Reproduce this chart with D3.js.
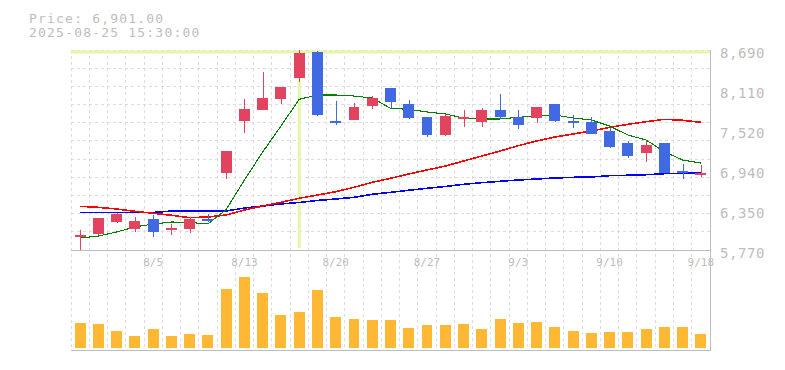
<!DOCTYPE html>
<html>
<head>
<meta charset="utf-8">
<script src="https://cdn.jsdelivr.net/npm/d3@7"></script>
<style>
  html, body { margin: 0; padding: 0; background: #fff; }
  svg { display: block; }
  text { font-family: "DejaVu Sans Mono", "Liberation Mono", monospace; fill: #bdbdbd; }
</style>
</head>
<body>
<svg id="chart" width="785" height="370"></svg>
<script>
const dates = ["7/30","7/31","8/1","8/4","8/5","8/6","8/7","8/8","8/12","8/13","8/14","8/15","8/18","8/19","8/20","8/21","8/22","8/25","8/26","8/27","8/28","8/29","9/1","9/2","9/3","9/4","9/5","9/8","9/9","9/10","9/11","9/12","9/16","9/17","9/18"];
const openP  = [5960,6004,6179,6077,6223,6062,6077,6223,6894,7653,7814,7975,8281,8661,7653,7668,7872,8135,7902,7712,7449,7687,7639,7814,7712,7697,7902,7653,7639,7507,7332,7186,7332,6923,6880];
const highP  = [6062,6237,6310,6252,6281,6150,6252,6296,7215,7975,8369,8150,8690,8675,7945,7916,8018,8135,7960,7712,7756,7814,7843,8048,7814,7858,7902,7741,7712,7551,7361,7361,7332,7026,7011];
const lowP   = [5770,5989,6164,6033,5960,5989,6018,6179,6807,7478,7814,7902,8223,7726,7595,7668,7829,7829,7683,7420,7434,7566,7566,7683,7537,7624,7639,7551,7464,7259,7113,7055,6894,6807,6836];
const closeP = [5989,6237,6296,6193,6033,6091,6223,6193,7215,7829,7989,8150,8646,7741,7624,7858,7989,7931,7697,7449,7726,7716,7814,7712,7595,7858,7653,7624,7464,7274,7142,7303,6894,6894,6901];
const maShort = [5945,5974,6033,6106,6150,6179,6172,6150,6361,6792,7201,7580,7970,8033,8033,8018,7989,7839,7824,7785,7756,7697,7683,7683,7707,7726,7741,7697,7668,7580,7449,7376,7205,7084,7040];
const maMid   = [6408,6393,6369,6335,6306,6277,6242,6252,6281,6354,6412,6466,6525,6573,6621,6685,6758,6817,6880,6938,6996,7069,7142,7215,7293,7361,7420,7464,7507,7561,7605,7643,7678,7664,7634];
const maLong  = [6318,6318,6318,6318,6318,6339,6339,6339,6339,6383,6412,6442,6464,6493,6515,6539,6583,6612,6642,6671,6697,6729,6753,6773,6792,6807,6821,6831,6836,6855,6861,6869,6884,6890,6899];
const volume  = [253000,240000,173000,123000,193000,123000,143000,133000,593000,713000,553000,333000,363000,583000,313000,293000,283000,283000,203000,233000,233000,243000,193000,293000,253000,263000,213000,173000,153000,163000,163000,193000,213000,213000,143000];
const priceTicks = [5770,6350,6940,7520,8110,8690];
const dateTicks = ["8/5","8/13","8/20","8/27","9/3","9/10","9/18"];
const infoLines = ["Price: 6,901.00","2025-08-25 15:30:00"];
const crossDate = "8/18";
const crossPrice = 8660;

const svg = d3.select("#chart");
const L = 71, R = 710, T = 50, B = 250, VB = 350, VBar = 348, VTop = 268;

const x = d3.scaleBand().domain(d3.range(dates.length)).range([L, R]).paddingInner(0.4).paddingOuter(0.2);
const y = d3.scaleLinear().domain([5770, 8690]).range([B, T]);
const yv = d3.scaleLinear().domain([0, 800000]).range([VBar, VTop]);
const cx = i => x(i) + x.bandwidth() / 2;
const step = x.step();

// grid
const grid = svg.append("g").attr("stroke", "#dcdcdc").attr("stroke-dasharray", "3,3").attr("shape-rendering", "crispEdges");
const nH = 11;
for (let k = 0; k < nH; k++) {
  const gy = T + (B - T) * k / nH;
  grid.append("line").attr("x1", L).attr("x2", R).attr("y1", gy).attr("y2", gy);
}
for (let k = 0; k < dates.length; k++) {
  const gx = L + k * step;
  grid.append("line").attr("x1", gx).attr("x2", gx).attr("y1", T).attr("y2", VB);
}

// axis borders
const ax = svg.append("g").attr("stroke", "#bdbdbd").attr("shape-rendering", "crispEdges");
ax.append("line").attr("x1", L).attr("x2", R + 0.5).attr("y1", B + 0.5).attr("y2", B + 0.5);
ax.append("line").attr("x1", L).attr("x2", R + 0.5).attr("y1", VB + 0.5).attr("y2", VB + 0.5);
ax.append("line").attr("x1", R + 0.5).attr("x2", R + 0.5).attr("y1", T).attr("y2", VB + 0.5);

// crosshair
const ci = dates.indexOf(crossDate);
svg.append("line").attr("x1", L).attr("x2", R).attr("y1", y(crossPrice)).attr("y2", y(crossPrice))
  .attr("stroke", "#e6f5a8").attr("stroke-width", 3);
svg.append("line").attr("x1", cx(ci)).attr("x2", cx(ci)).attr("y1", T).attr("y2", B - 2)
  .attr("stroke", "#e6f5a8").attr("stroke-width", 3);

// moving averages
const line = d3.line().x((d, i) => cx(i)).y(d => y(d));
svg.append("path").datum(maLong).attr("d", line).attr("fill", "none").attr("stroke", "#0000ff").attr("stroke-width", 1.6).attr("shape-rendering", "crispEdges");
svg.append("path").datum(maMid).attr("d", line).attr("fill", "none").attr("stroke", "#ff0000").attr("stroke-width", 1.6).attr("shape-rendering", "crispEdges");
svg.append("path").datum(maShort).attr("d", line).attr("fill", "none").attr("stroke", "#008000").attr("stroke-width", 1.1).attr("shape-rendering", "crispEdges");

// candles
const UP = "#e2435e", DOWN = "#4169e1";
const candles = svg.append("g").attr("shape-rendering", "crispEdges");
dates.forEach((d, i) => {
  const up = closeP[i] >= openP[i];
  const col = up ? UP : DOWN;
  candles.append("line").attr("x1", Math.round(cx(i)) + 0.5).attr("x2", Math.round(cx(i)) + 0.5)
    .attr("y1", y(highP[i])).attr("y2", y(lowP[i])).attr("stroke", col).attr("stroke-width", 1.5);
  const top = y(Math.max(openP[i], closeP[i]));
  const h = Math.max(2, y(Math.min(openP[i], closeP[i])) - top);
  candles.append("rect").attr("x", x(i)).attr("width", x.bandwidth()).attr("y", top).attr("height", h).attr("fill", col);
});

// volume
svg.append("g").attr("shape-rendering", "crispEdges").selectAll("rect").data(volume).join("rect")
  .attr("x", (d, i) => x(i)).attr("width", x.bandwidth())
  .attr("y", d => yv(d)).attr("height", d => VBar - yv(d)).attr("fill", "#ffb834");

// price labels
svg.append("g").selectAll("text").data(priceTicks).join("text")
  .attr("x", 720).attr("y", d => y(d) + 8).attr("font-size", 14).attr("letter-spacing", 0.6)
  .text(d => d3.format(",")(d));

// date labels
svg.append("g").selectAll("text").data(dateTicks).join("text")
  .attr("x", d => cx(dates.indexOf(d))).attr("y", 266).attr("text-anchor", "middle").attr("font-size", 11)
  .text(d => d);

// info text
svg.append("g").selectAll("text").data(infoLines).join("text")
  .attr("x", 29).attr("y", (d, i) => 22.7 + i * 14.6).attr("font-size", 13).attr("letter-spacing", 1.2)
  .text(d => d);
</script>
</body>
</html>
